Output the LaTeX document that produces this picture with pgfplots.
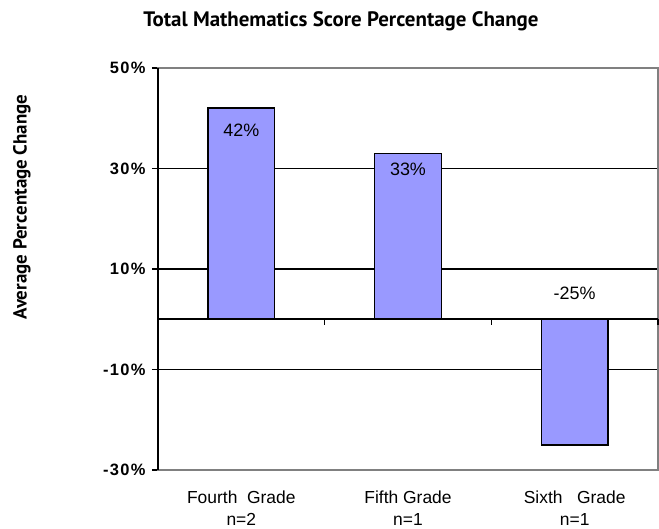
\documentclass[border=0pt]{standalone}
\usepackage{fontspec}
\setmainfont{Liberation Sans}
\newfontfamily\gill{PT Sans}
\usepackage{pgfplots}
\pgfplotsset{compat=1.18}
\definecolor{barblue}{HTML}{9999FF}
\definecolor{framegray}{HTML}{808080}

\begin{document}
\begin{tikzpicture}
\begin{axis}[
    scale only axis,
    width=500bp, height=402bp,
    clip=false,
    xmin=-0.5, xmax=2.5,
    ymin=-30, ymax=50,
    xtick={0,1,2},
    xticklabels={{Fourth\ \ Grade\\n=2},{Fifth Grade\\n=1},{Sixth\ \ \ Grade\\n=1}},
    xticklabel style={align=center, font=\fontsize{17.5}{22}\selectfont, yshift=-11bp},
    x tick style={draw=none},
    ytick={-30,-10,10,30,50},
    yticklabels={-30\%,-10\%,10\%,30\%,50\%},
    yticklabel style={font=\fontsize{16.5}{18}\selectfont\bfseries\addfontfeatures{LetterSpace=8}, xshift=-3bp},
    ytick pos=left,
    y tick style={black, line width=1.5bp},
    tick align=outside,
    major tick length=6bp,
    ymajorgrids,
    major grid style={black, line width=1.5bp},
    axis line style={framegray, line width=1.5bp},
]

\addplot[ybar, bar width=0.4, fill=barblue, draw=black, line width=1.5bp]
  coordinates {(0,42) (1,33) (2,-25)};

% zero line with category separators
\draw[black, line width=1.5bp] (axis cs:-0.5,0) -- (axis cs:2.5,0);
\draw[black, line width=1.5bp] (axis cs:0.5,0) -- (axis cs:0.5,-1.2);
\draw[black, line width=1.5bp] (axis cs:1.5,0) -- (axis cs:1.5,-1.2);
\draw[black, line width=1.5bp] (axis cs:2.5,0) -- (axis cs:2.5,-1.2);
\draw[black, line width=1.5bp] (rel axis cs:0,0) -- (rel axis cs:0,1);

% bar value labels
\node[font=\fontsize{18}{20}\selectfont] at (axis cs:0,37.6) {42\%};
\node[font=\fontsize{18}{20}\selectfont] at (axis cs:1,29.8) {33\%};
\node[font=\fontsize{18}{20}\selectfont] at (axis cs:2,5.2) {-25\%};

% title and y label
\node[font=\gill\bfseries\fontsize{21}{24}\selectfont, anchor=base]
  at (rel axis cs:0.366,1.102) {Total Mathematics Score Percentage Change};
\node[font=\gill\bfseries\fontsize{19}{22}\selectfont, rotate=90]
  at (rel axis cs:-0.272,0.654) {Average Percentage Change};

% page size
\path (rel axis cs:-0.316,-0.1468) rectangle (rel axis cs:1.002,1.169);
\end{axis}
\end{tikzpicture}
\end{document}
